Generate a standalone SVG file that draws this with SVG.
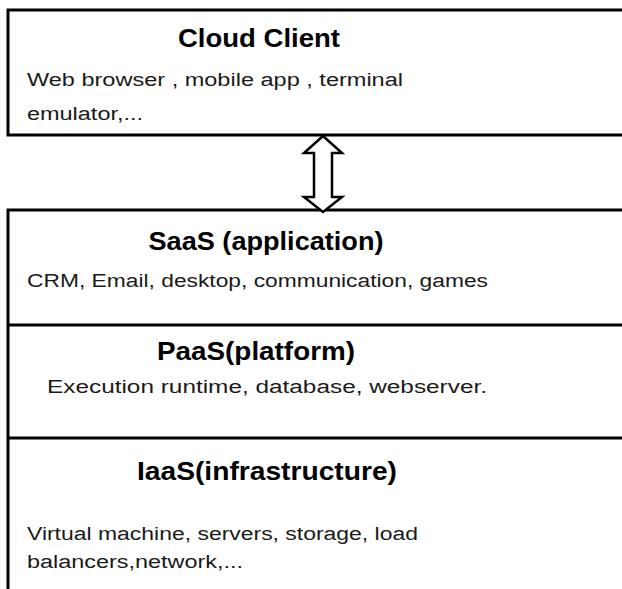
<svg xmlns="http://www.w3.org/2000/svg" width="622" height="589" viewBox="0 0 622 589">
  <style>
    .box { fill: #ffffff; stroke: #000000; stroke-width: 3; }
    .div { stroke: #000000; stroke-width: 3; }
    .title { font-family: "Liberation Sans", Arial, sans-serif; font-weight: bold; font-size: 25px; fill: #000000; text-anchor: middle; }
    .body { font-family: "Liberation Sans", Arial, sans-serif; font-size: 18px; fill: #1a1a1a; }
    .arrow { fill: #ffffff; stroke: #000000; stroke-width: 2.5; stroke-linejoin: miter; }
  </style>
  <rect x="0" y="0" width="622" height="589" fill="#ffffff"/>

  <g id="cloud-client">
    <rect class="box" x="8" y="10" width="630" height="125"/>
    <text class="title" x="259" y="47" textLength="162" lengthAdjust="spacingAndGlyphs">Cloud Client</text>
    <text class="body" x="27" y="86" textLength="376" lengthAdjust="spacingAndGlyphs">Web browser , mobile app , terminal</text>
    <text class="body" x="27" y="120" textLength="116" lengthAdjust="spacingAndGlyphs">emulator,...</text>
  </g>

  <g id="stack">
    <rect class="box" x="8" y="210" width="630" height="400"/>
  </g>

  <g id="saas">
    <text class="title" x="266" y="250" textLength="235" lengthAdjust="spacingAndGlyphs">SaaS (application)</text>
    <text class="body" x="27" y="287" textLength="461" lengthAdjust="spacingAndGlyphs">CRM, Email, desktop, communication, games</text>
  </g>

  <g id="paas">
    <line class="div" x1="8" y1="325" x2="630" y2="325"/>
    <text class="title" x="256" y="360" textLength="198" lengthAdjust="spacingAndGlyphs">PaaS(platform)</text>
    <text class="body" x="47" y="393" textLength="440" lengthAdjust="spacingAndGlyphs">Execution runtime, database, webserver.</text>
  </g>

  <g id="iaas">
    <line class="div" x1="8" y1="438" x2="630" y2="438"/>
    <text class="title" x="267" y="480" textLength="260" lengthAdjust="spacingAndGlyphs">IaaS(infrastructure)</text>
    <text class="body" x="27" y="540" textLength="391" lengthAdjust="spacingAndGlyphs">Virtual machine, servers, storage, load</text>
    <text class="body" x="27" y="568" textLength="216" lengthAdjust="spacingAndGlyphs">balancers,network,...</text>
  </g>

  <g id="connectors">
    <polygon class="arrow" points="323,136 342,153 332,153 332,197 342,197 323,212 304,197 314,197 314,153 304,153"/>
  </g>
</svg>
